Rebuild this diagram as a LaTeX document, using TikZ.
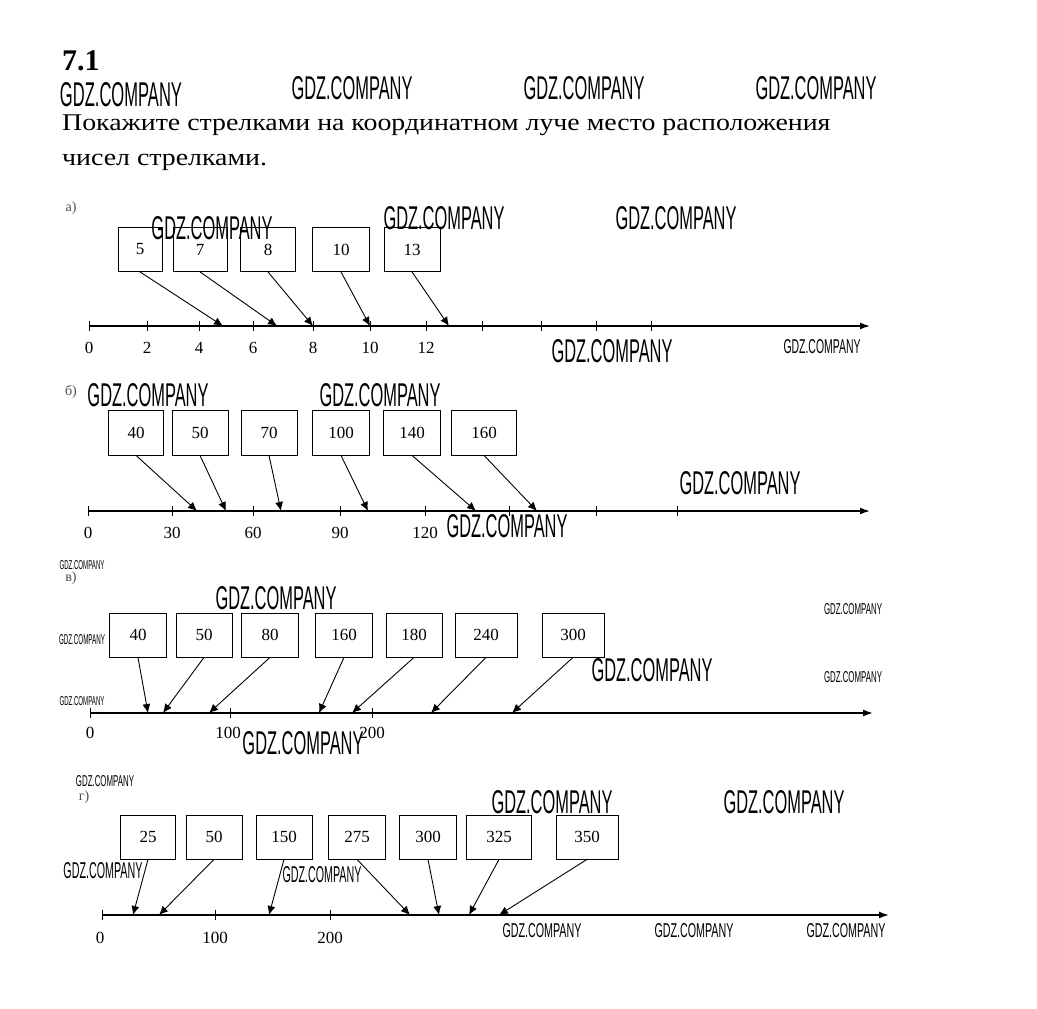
\documentclass[tikz,border=0pt]{standalone}
\usepackage{fontspec}
\setmainfont{Liberation Serif}
\setsansfont{Liberation Sans}
\usepackage{tikz}
\usetikzlibrary{arrows.meta}

\newcommand{\gdz}[2]{\resizebox{#1pt}{#2pt}{\sffamily GDZ.COMPANY}}
\newcommand{\wideline}[1]{\scalebox{1.16}[1]{#1}}

\tikzset{
    numbox/.style={draw, line width=0.8pt, minimum height=44pt, inner sep=0pt, font=\fontsize{17}{17}\selectfont},
    ptr/.style={-{Latex[length=9pt,width=8pt]}, line width=0.9pt},
    ray/.style={-{Latex[length=10pt,width=7pt]}, line width=1.6pt},
    numlab/.style={font=\fontsize{17}{17}\selectfont, inner sep=0pt},
    part/.style={font=\fontsize{14}{14}\selectfont, text=black!70, inner sep=0pt},
    task/.style={anchor=base west, inner sep=0pt, font=\fontsize{24}{24}\selectfont},
    wm/.style={inner sep=0pt}
}

\begin{document}
\begin{tikzpicture}[x=1pt, y=-1pt]
            \useasboundingbox[fill=white] (0, 0) rectangle (1037, 1009);

            \node[anchor=base west, inner sep=0pt, font=\fontsize{30}{30}\selectfont\bfseries] (title) at (62, 70){7.1};
            \node[task] (line1) at (62, 130){\wideline{Покажите стрелками на координатном луче место расположения}};
            \node[task] (line2) at (62, 165){\wideline{чисел стрелками.}};

            % а)
            \node[part] (pa) at (71, 208){а)};
            \coordinate (oa) at (89, 326);
            \coordinate (ea) at (870, 326);
            \draw[ray] (oa) -- (ea);
            \foreach \x in {89,147,199,253,313,370,426,482,541,596,651} {
                \draw[line width=1pt] (\x, 321) -- (\x, 331);
            }
            \foreach \x/\l in {89/0,147/2,199/4,253/6,313/8,370/10,426/12} {
                \node[numlab] (la\l) at (\x, 348){\l};
            }
            \foreach \n/\x/\w/\p in {5/140/44/223, 7/200/54/277, 8/268/55/313, 10/341/57/370, 13/412/56/449} {
                \node[numbox, minimum width=\w pt] (a\n) at (\x, 249.5){\n};
                \coordinate (ta\n) at (\p, 326);
                \draw[ptr] (a\n.south) -- (ta\n);
            }

            % б)
            \node[part] (pb) at (71, 392){б)};
            \coordinate (ob) at (88, 511);
            \coordinate (eb) at (870, 511);
            \draw[ray] (ob) -- (eb);
            \foreach \x in {88,172,253,340,425,509,596,677} {
                \draw[line width=1pt] (\x, 506) -- (\x, 516);
            }
            \foreach \x/\l in {88/0,172/30,253/60,340/90,425/120} {
                \node[numlab] (lb\l) at (\x, 533){\l};
            }
            \foreach \n/\x/\w/\p in {40/136/55/197, 50/200/56/226, 70/269/56/281, 100/341/57/368, 140/412/57/476, 160/484/65/537} {
                \node[numbox, minimum width=\w pt, minimum height=45pt] (b\n) at (\x, 432.5){\n};
                \coordinate (tb\n) at (\p, 511);
                \draw[ptr] (b\n.south) -- (tb\n);
            }

            % в)
            \node[part] (pc) at (71, 578){в)};
            \coordinate (oc) at (90, 713);
            \coordinate (ec) at (873, 713);
            \draw[ray] (oc) -- (ec);
            \foreach \x in {90,230,372} {
                \draw[line width=1pt] (\x, 708) -- (\x, 718);
            }
            \foreach \x/\l in {90/0,228/100,372/200} {
                \node[numlab] (lc\l) at (\x, 733){\l};
            }
            \foreach \n/\x/\w/\p in {40/138/57/148, 50/204/56/163, 80/270/57/209, 160/344/57/319, 180/414/56/352, 240/486/62/431, 300/573/62/512} {
                \node[numbox, minimum width=\w pt] (c\n) at (\x, 635){\n};
                \coordinate (tc\n) at (\p, 713);
                \draw[ptr] (c\n.south) -- (tc\n);
            }

            % г)
            \node[part] (pd) at (84, 797){г)};
            \coordinate (od) at (102, 915);
            \coordinate (ed) at (889, 915);
            \draw[ray] (od) -- (ed);
            \foreach \x in {102,215,330} {
                \draw[line width=1pt] (\x, 910) -- (\x, 920);
            }
            \foreach \x/\l in {100/0,215/100,330/200} {
                \node[numlab] (ld\l) at (\x, 938){\l};
            }
            \foreach \n/\x/\w/\p in {25/148/55/133, 50/214/56/159, 150/284/56/269, 275/357/57/410, 300/428/57/439, 325/499/65/469, 350/587/62/499} {
                \node[numbox, minimum width=\w pt] (d\n) at (\x, 837){\n};
                \coordinate (td\n) at (\p, 915);
                \draw[ptr] (d\n.south) -- (td\n);
            }

            % watermarks
            \foreach \x/\y/\w/\h [count=\i] in {121/95/122/24, 352/88/121/23, 584/88/121/23, 816/88/121/23,
                212/228/121/23, 444/218/121/23, 676/218/121/23, 612/351/121/23, 822/347/77/14,
                148/395/121/23, 380/395/121/23, 740/483/121/23, 507/526/121/23, 82/565/45/9,
                276/598/121/23, 853/609/58/11, 82/640/46/10, 652/670/121/23, 853/677/58/11,
                82/701/45/9, 303/743/121/23, 105/781/58/11, 552/802/121/23, 784/802/121/23,
                103/871/79/16, 322/875/79/16, 542/931/79/14, 694/931/79/14, 846/931/79/14} {
                \node[wm] (w\i) at (\x, \y){\gdz{\w}{\h}};
            }
        \end{tikzpicture}
\end{document}
